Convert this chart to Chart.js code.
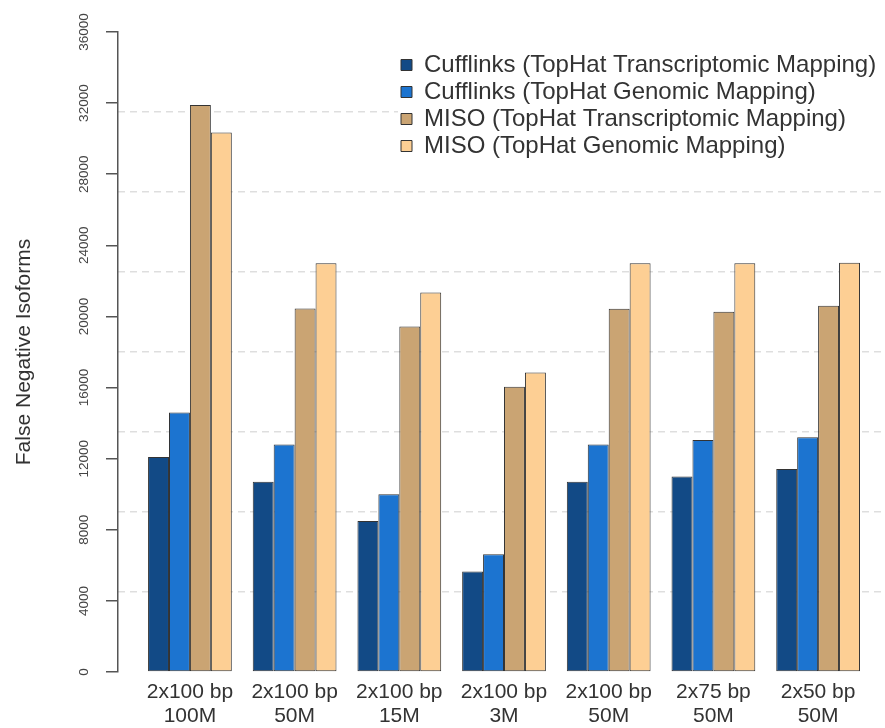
<!DOCTYPE html>
<html lang="en">
  <head>
    <meta charset="utf-8">
    <title>False negative isoforms</title>
    <style>
      body { margin: 0; background: #fff; }
      #wrap { width: 885px; height: 728px; }
    </style>
  </head>
  <body>
    <div id="wrap"><canvas id="myChart" width="885" height="728"></canvas></div>

    <script src="https://cdn.jsdelivr.net/npm/chart.js@4.4.1/dist/chart.umd.min.js"></script>
    <script>
      // x categories (read length / sequencing depth)
      const readLengths = ['2x100 bp', '2x100 bp', '2x100 bp', '2x100 bp', '2x100 bp', '2x75 bp', '2x50 bp'];
      const depths = ['100M', '50M', '15M', '3M', '50M', '50M', '50M'];

      // false negative isoforms per method
      const cuffTrans = [12100, 10700, 8500, 5650, 10700, 11000, 11420];
      const cuffGenomic = [14600, 12800, 10000, 6620, 12800, 13050, 13200];
      const misoTrans = [31900, 20450, 19430, 16050, 20430, 20270, 20600];
      const misoGenomic = [30350, 22990, 21350, 16840, 22990, 22990, 23020];

      const seriesNames = [
        'Cufflinks (TopHat Transcriptomic Mapping)',
        'Cufflinks (TopHat Genomic Mapping)',
        'MISO (TopHat Transcriptomic Mapping)',
        'MISO (TopHat Genomic Mapping)'
      ];
      const yTicks = [0, 4000, 8000, 12000, 16000, 20000, 24000, 28000, 32000, 36000];

      const colors = ['#124a86', '#1c74d0', '#caa473', '#fdcf94'];
      const font = "'Liberation Sans', Arial, Helvetica, sans-serif";

      const toPoints = arr => arr.map((v, i) => ({x: i, y: v}));
      const datasets = [cuffTrans, cuffGenomic, misoTrans, misoGenomic].map((arr, k) => ({
        label: seriesNames[k],
        data: toPoints(arr),
        backgroundColor: colors[k],
        borderColor: '#333',
        borderWidth: 1,
        borderSkipped: false,
        categoryPercentage: 0.8,
        barPercentage: 1
      }));

      // R-style legend sits inside the plot with a white box behind it
      const legendBox = {
        id: 'legendBox',
        afterLayout(chart) {
          const lg = chart.legend;
          lg.left = 398; lg.right = 398 + lg.width;
          lg.top = 50; lg.bottom = 300;
        },
        afterDraw(chart) {
          const lg = chart.legend;
          const h = lg.columnSizes[0].height + lg.options.labels.padding;
          const ctx = chart.ctx;
          ctx.save();
          ctx.fillStyle = '#fff';
          ctx.fillRect(lg.left, lg.top, lg.width, h);
          ctx.restore();
          lg.draw();
        }
      };

      new Chart(document.getElementById('myChart'), {
        type: 'bar',
        data: {datasets: datasets},
        plugins: [legendBox],
        options: {
          responsive: false,
          animation: false,
          layout: {padding: {top: 32, left: 0, right: 0, bottom: 0}},
          plugins: {
            tooltip: {enabled: false},
            legend: {
              position: 'chartArea',
              align: 'start',
              labels: {
                boxWidth: 11,
                boxHeight: 11,
                padding: 3,
                color: '#333',
                font: {family: font, size: 24}
              }
            }
          },
          scales: {
            x: {
              type: 'linear',
              offset: false,
              min: -0.687,
              max: 6.639,
              grid: {display: false},
              border: {display: false},
              ticks: {
                stepSize: 1,
                includeBounds: false,
                padding: 0,
                color: '#333',
                font: {family: font, size: 21, lineHeight: 1.15},
                callback: v => [readLengths[v], depths[v]]
              },
              afterFit: s => { s.height = 56; }
            },
            y: {
              min: 0,
              max: 36000,
              afterBuildTicks: s => { s.ticks = yTicks.map(v => ({value: v})); },
              grid: {drawOnChartArea: false, tickLength: 12, color: '#555', lineWidth: 1.5},
              border: {color: '#555', width: 1.5},
              ticks: {
                minRotation: 90,
                maxRotation: 90,
                crossAlign: 'center',
                padding: 3,
                autoSkip: false,
                color: '#444',
                font: {family: font, size: 13.5},
                callback: v => String(v)
              },
              title: {
                display: true,
                text: 'False Negative Isoforms',
                color: '#333',
                font: {family: font, size: 21},
                padding: {top: 12, bottom: 0}
              },
              afterFit: s => { s.width = 118; }
            },
            yg: {
              position: 'right',
              min: 0,
              max: 36000,
              z: 1,
              ticks: {display: false, stepSize: 4500},
              grid: {
                drawTicks: false,
                lineWidth: 1.5,
                color: c => (c.tick.value === 0 || c.tick.value === 36000) ? 'rgba(0,0,0,0)' : 'rgba(218,218,218,0.9)'
              },
              border: {display: false, dash: [7, 5]},
              afterFit: s => { s.width = 0; }
            }
          }
        }
      });
    </script>
  </body>
</html>
